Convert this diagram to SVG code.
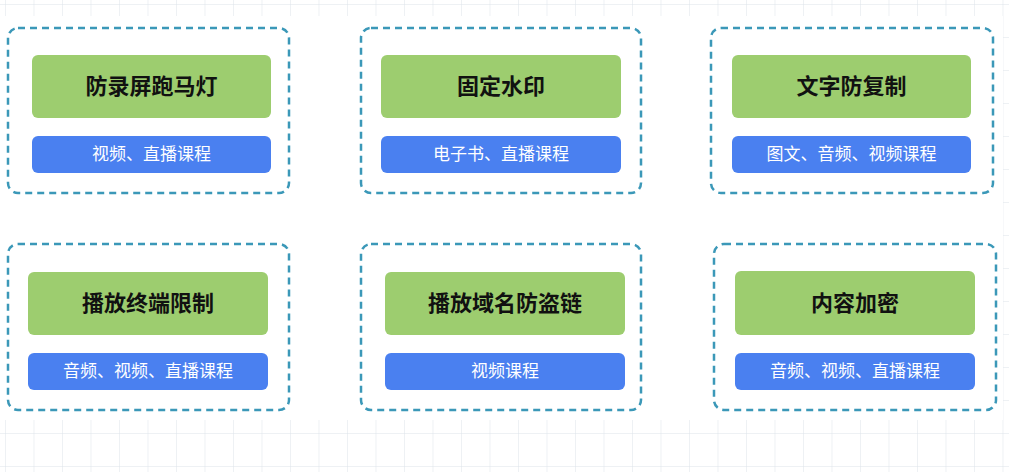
<svg xmlns="http://www.w3.org/2000/svg" width="1009" height="472" viewBox="0 0 1009 472">
<defs>
<pattern id="grid" width="28.5" height="33" patternUnits="userSpaceOnUse" x="5" y="4">
<path d="M0 0V33M0 0H28.5" fill="none" stroke="#dde4ea" stroke-width="1"/>
</pattern>
</defs>
<style>
.outer{fill:#fff;stroke:#3b98b8;stroke-width:2.5;stroke-dasharray:7 5}
.g{fill:#9dcd6f}
.b{fill:#4a80f0}
.t{font-family:"Noto Sans CJK SC",sans-serif;font-size:22px;font-weight:bold;fill:#111;text-anchor:middle}
.s{font-family:"Noto Sans CJK SC",sans-serif;font-size:17px;fill:#fff;text-anchor:middle}
</style>
<rect width="1009" height="472" fill="#fff"/>
<rect width="1009" height="472" fill="url(#grid)"/>
<rect x="0" y="16" width="1003" height="404" fill="#fff"/>
<g id="n1"><rect class="outer" x="8" y="28" width="281" height="165" rx="10"/><rect class="g" x="32" y="55" width="239" height="63" rx="6"/><text class="t" x="151.5" y="94">防录屏跑马灯</text><rect class="b" x="32" y="136" width="239" height="37" rx="6"/><text class="s" x="151.5" y="160">视频、直播课程</text></g>
<g id="n2"><rect class="outer" x="361" y="28" width="280" height="165" rx="10"/><rect class="g" x="381" y="55" width="240" height="63" rx="6"/><text class="t" x="501" y="94">固定水印</text><rect class="b" x="381" y="136" width="240" height="37" rx="6"/><text class="s" x="501" y="160">电子书、直播课程</text></g>
<g id="n3"><rect class="outer" x="711" y="28" width="282" height="165" rx="10"/><rect class="g" x="732" y="55" width="239" height="63" rx="6"/><text class="t" x="851.5" y="94">文字防复制</text><rect class="b" x="732" y="136" width="239" height="37" rx="6"/><text class="s" x="851.5" y="160">图文、音频、视频课程</text></g>
<g id="n4"><rect class="outer" x="8" y="244" width="281" height="166" rx="10"/><rect class="g" x="28" y="272" width="240" height="63" rx="6"/><text class="t" x="148" y="311">播放终端限制</text><rect class="b" x="28" y="353" width="240" height="37" rx="6"/><text class="s" x="148" y="377">音频、视频、直播课程</text></g>
<g id="n5"><rect class="outer" x="361" y="244" width="280" height="166" rx="10"/><rect class="g" x="385" y="272" width="240" height="63" rx="6"/><text class="t" x="505" y="311">播放域名防盗链</text><rect class="b" x="385" y="353" width="240" height="37" rx="6"/><text class="s" x="505" y="377">视频课程</text></g>
<g id="n6"><rect class="outer" x="714" y="244" width="282" height="166" rx="10"/><rect class="g" x="735" y="271" width="240" height="64" rx="6"/><text class="t" x="855" y="311">内容加密</text><rect class="b" x="735" y="353" width="240" height="37" rx="6"/><text class="s" x="855" y="377">音频、视频、直播课程</text></g>
<g id="connectors"/>
</svg>
